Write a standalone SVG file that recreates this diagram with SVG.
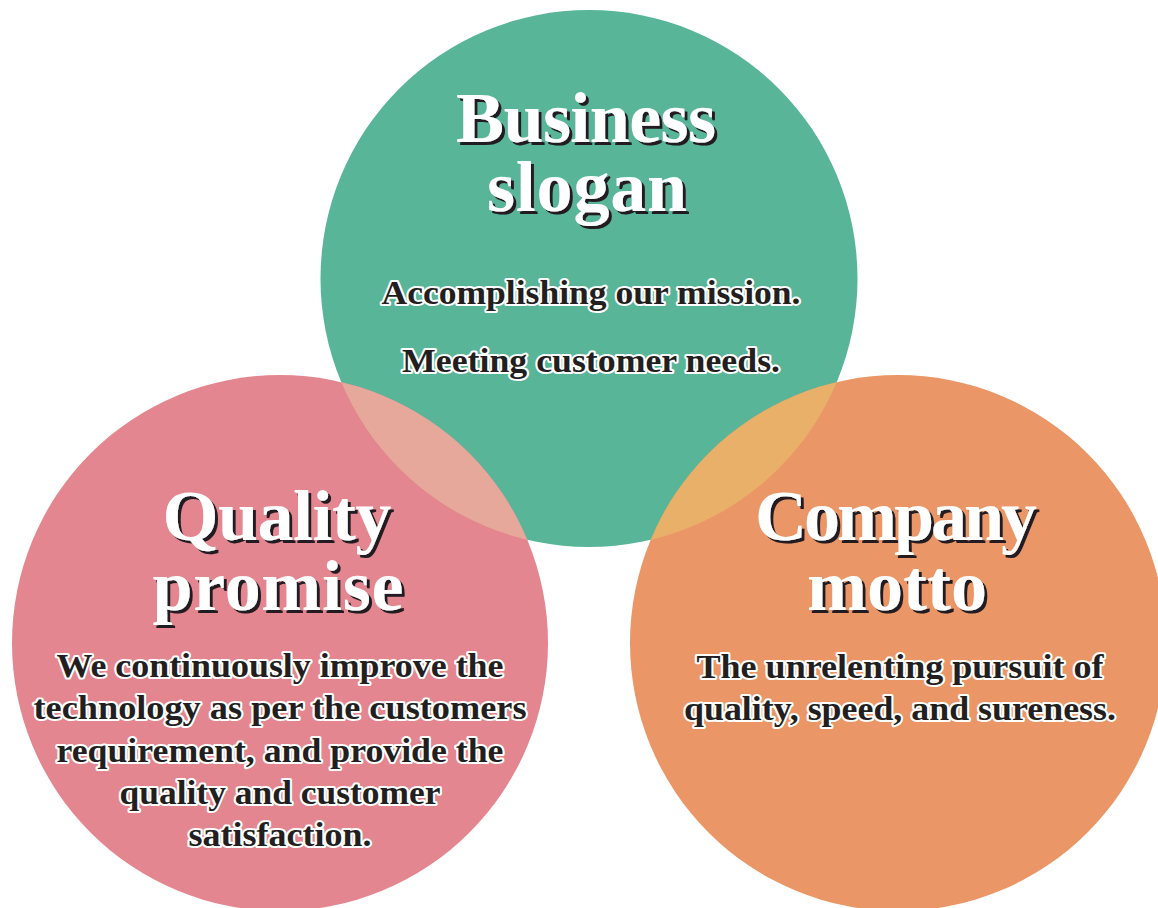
<svg xmlns="http://www.w3.org/2000/svg" width="1158" height="908" viewBox="0 0 1158 908">
<style>
.title{font-family:"Liberation Serif","Times New Roman",serif;font-weight:bold;font-size:72px;fill:#ffffff;text-anchor:middle;filter:url(#sh)}
.body{font-family:"Liberation Serif","Times New Roman",serif;font-weight:bold;font-size:33px;fill:#231f20;stroke:#ffffff;stroke-width:4;stroke-linejoin:round;paint-order:stroke;text-anchor:middle}
</style>
<defs>
<filter id="sh" x="-10%" y="-20%" width="130%" height="150%">
<feDropShadow dx="3" dy="3" stdDeviation="0.4" flood-color="#231f20" flood-opacity="1"/>
</filter>
<clipPath id="cg"><circle cx="589" cy="278.5" r="268.5"/></clipPath>
</defs>
<rect width="1158" height="908" fill="#ffffff"/>
<g id="business-slogan">
<circle cx="589" cy="278.5" r="268.5" fill="#58b598"/>
</g>
<g id="quality-promise-circle">
<circle cx="280" cy="643" r="268" fill="#e4868f"/>
</g>
<g id="company-motto-circle">
<circle cx="898" cy="643" r="268" fill="#eb9666"/>
</g>
<g id="overlaps">
<circle cx="280" cy="643" r="268" fill="#e6a89b" clip-path="url(#cg)"/>
<circle cx="898" cy="643" r="268" fill="#e8b068" clip-path="url(#cg)"/>
</g>
<g id="business-slogan-text">
<text class="title"><tspan x="586" y="142" textLength="260" lengthAdjust="spacing">Business</tspan><tspan x="587" y="211" textLength="200" lengthAdjust="spacing">slogan</tspan></text>
<text class="body" x="591" y="304" textLength="419" lengthAdjust="spacingAndGlyphs">Accomplishing our mission.</text>
<text class="body" x="591" y="372" textLength="378" lengthAdjust="spacingAndGlyphs">Meeting customer needs.</text>
</g>
<g id="quality-promise">
<text class="title"><tspan x="277" y="540" textLength="229" lengthAdjust="spacing">Quality</tspan><tspan x="278" y="610" textLength="251" lengthAdjust="spacing">promise</tspan></text>
<text class="body" x="280" y="677" textLength="447" lengthAdjust="spacingAndGlyphs">We continuously improve the</text>
<text class="body" x="280" y="719" textLength="493" lengthAdjust="spacingAndGlyphs">technology as per the customers</text>
<text class="body" x="280" y="762" textLength="447" lengthAdjust="spacingAndGlyphs">requirement, and provide the</text>
<text class="body" x="280" y="804" textLength="321" lengthAdjust="spacingAndGlyphs">quality and customer</text>
<text class="body" x="280" y="846" textLength="183" lengthAdjust="spacingAndGlyphs">satisfaction.</text>
</g>
<g id="company-motto">
<text class="title"><tspan x="896" y="540" textLength="282" lengthAdjust="spacing">Company</tspan><tspan x="897" y="610" textLength="180" lengthAdjust="spacing">motto</tspan></text>
<text class="body" x="900" y="678" textLength="407" lengthAdjust="spacingAndGlyphs">The unrelenting pursuit of</text>
<text class="body" x="900" y="720" textLength="432" lengthAdjust="spacingAndGlyphs">quality, speed, and sureness.</text>
</g>
<g id="connectors"></g>
</svg>
